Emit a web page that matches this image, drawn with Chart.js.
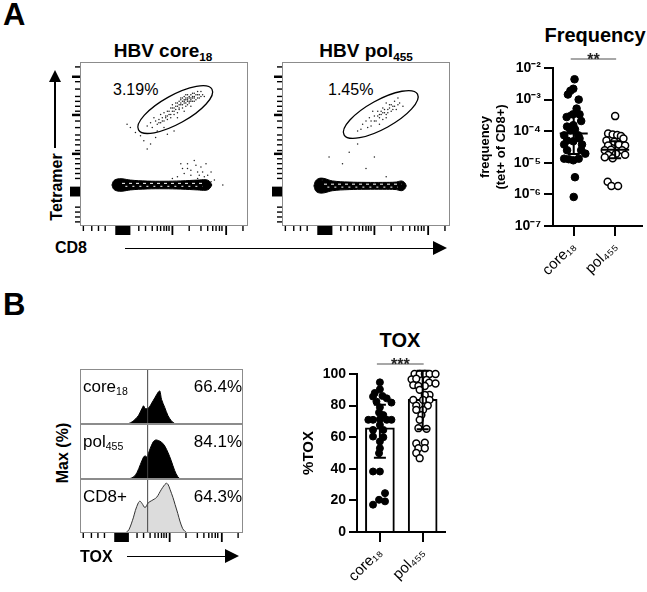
<!DOCTYPE html>
<html>
<head>
<meta charset="utf-8">
<script src="https://cdn.jsdelivr.net/npm/chart.js@4.4.1/dist/chart.umd.min.js"></script>
<style>
  body { margin: 0; background: #fff; }
  #fig { position: relative; width: 647px; height: 592px; overflow: hidden; font-family: "Liberation Sans", Arial, sans-serif; color: #000; }
  #fig canvas { position: absolute; }
  .t { position: absolute; white-space: nowrap; line-height: 1; }
  .b { font-weight: bold; }
  .rot { transform: translate(-50%, -50%) rotate(-90deg); }
  .ctr { transform: translateX(-50%); }
  .sub { font-size: 0.62em; position: relative; top: 0.3em; }
  .hl { position: absolute; background: #000; }
  .tri-r { position: absolute; width: 0; height: 0; border-top: 7px solid transparent; border-bottom: 7px solid transparent; border-left: 14px solid #000; }
  .tri-u { position: absolute; width: 0; height: 0; border-left: 6px solid transparent; border-right: 6px solid transparent; border-bottom: 12px solid #000; }
</style>
</head>
<body>
<div id="fig">
  <div class="t b" style="left:3px;top:-1px;font-size:31px">A</div>
  <div class="t b" style="left:3px;top:289px;font-size:31px">B</div>

  <!-- panel A flow plots -->
  <div class="t b ctr" style="left:163px;top:41px;font-size:19px">HBV core<span class="sub">18</span></div>
  <div class="t b ctr" style="left:366px;top:41px;font-size:19px">HBV pol<span class="sub">455</span></div>
  <div class="t" style="left:113px;top:81.5px;font-size:16px">3.19%</div>
  <div class="t" style="left:328px;top:81.5px;font-size:16px">1.45%</div>
  <div class="t b rot" style="left:57px;top:187px;font-size:16px">Tetramer</div>
  <div class="hl" style="left:54px;top:80px;width:1.5px;height:68px"></div>
  <div class="tri-u" style="left:49px;top:70px"></div>
  <div class="t b" style="left:55px;top:239.5px;font-size:16px">CD8</div>
  <div class="hl" style="left:125px;top:247.5px;width:310px;height:1.5px"></div>
  <div class="tri-r" style="left:433px;top:241px"></div>
  <canvas id="flow1" width="200" height="192" style="left:60px;top:55px"></canvas>
  <canvas id="flow2" width="200" height="192" style="left:262px;top:55px"></canvas>

  <div class="t b ctr" style="left:595px;top:25px;font-size:20px">Frequency</div>
  <canvas id="freq" width="169" height="260" style="left:478px;top:40px"></canvas>

  <!-- panel B histograms -->
  <div class="t b rot" style="left:63px;top:453px;font-size:16px">Max (%)</div>
  <canvas id="hist1" width="190" height="57" style="left:60px;top:368px"></canvas>
  <canvas id="hist2" width="190" height="57" style="left:60px;top:423px"></canvas>
  <canvas id="hist3" width="190" height="70" style="left:60px;top:478px"></canvas>
  <div class="t" style="left:83px;top:377.6px;font-size:17px">core<span class="sub">18</span></div>
  <div class="t" style="right:405px;top:377.6px;font-size:17px">66.4%</div>
  <div class="t" style="left:83px;top:432.6px;font-size:17px">pol<span class="sub">455</span></div>
  <div class="t" style="right:405px;top:432.6px;font-size:17px">84.1%</div>
  <div class="t" style="left:83px;top:487.6px;font-size:17px">CD8+</div>
  <div class="t" style="right:405px;top:487.6px;font-size:17px">64.3%</div>
  <div class="t b" style="left:80px;top:548.5px;font-size:16px">TOX</div>
  <div class="hl" style="left:127px;top:555.5px;width:100px;height:1.5px"></div>
  <div class="tri-r" style="left:225px;top:549px"></div>

  <div class="t b ctr" style="left:400px;top:330px;font-size:20px">TOX</div>
  <canvas id="tox" width="150" height="237" style="left:300px;top:355px"></canvas>
</div>

<script>
// ---------- data ----------
var groups = ["core\u2081\u2088", "pol\u2084\u2085\u2085"];

// tetramer+ events (CD8 %, tetramer %) in each flow plot
var coreDots = [[40,61],[42,63],[43,60],[45,64],[44,66],[46,62],[47,65],[48,68],[48,63],[49,66],[50,69],[50,64],[51,67],[52,70],[52,65],[53,68],[54,72],[54,66],[55,70],[55,74],[56,68],[56,72],[57,71],[57,75],[58,69],[58,73],[59,76],[59,71],[60,74],[60,78],[61,72],[61,76],[62,75],[62,79],[63,73],[63,77],[64,76],[64,80],[64,74],[65,78],[65,75],[66,77],[66,80],[67,76],[67,79],[68,78],[68,81],[69,77],[70,80],[71,78],[72,82],[73,80],[74,79],[62,70],[50,60],[46,58],[58,66],[66,73],
  [60,75],[61,74],[62,77],[63,78],[64,77],[65,79],[66,76],[67,78],[68,79],[69,80],[70,78],[65,76],[63,75],[61,78],[59,74],[57,73],[56,70],[55,72],[53,70],[51,66],[49,64],[47,63],[66,78],[67,81],[64,78],[62,76],[60,77],[58,75],[54,68],[52,67],[68,76],[70,82],[71,80],[72,79],[63,80],[59,72],
  [28,62],[30,60],[36,55],[38,52],[42,50],[45,54],[33,57],[52,56],[56,58],[40,47],
  [60,38],[64,35],[68,40],[70,33],[72,36],[74,30],[66,31],[62,32],[58,30],[75,38],[55,29],[70,29],[78,27],[80,28],[85,25],
  [66,34],[69,37],[73,33],[76,31],[71,31],[64,38],[78,33],[61,35]];
var polDots = [[45,58],[48,62],[50,64],[52,66],[53,61],[55,67],[56,64],[57,70],[58,66],[59,68],[60,72],[61,69],[62,66],[63,71],[64,74],[65,70],[66,73],[67,76],[68,71],[70,75],[54,70],[47,59],[62,75],[58,62],[69,78],[72,73],[51,60],[60,65],
  [57,67],[59,70],[61,71],[63,69],[64,72],[66,71],[62,68],[60,69],[65,74],[58,68],[55,64],[53,64],[67,73],[69,74],
  [40,45],[36,38],[28,42],[55,42],[50,35],[62,30],[45,50],[24,28],[70,27]];

// CD8+ tetramer- population outline
var coreBandX = [19, 20, 22, 25, 30, 40, 50, 60, 70, 75, 77, 78.5];
var coreBandTop = [25, 27.5, 28.6, 28.8, 28, 27.4, 27.3, 27.5, 28, 28.2, 27.3, 25];
var coreBandBot = [25, 22.5, 21.4, 21.2, 22, 22.6, 22.7, 22.5, 22, 21.8, 22.7, 25];
var polBandX = [19, 20, 22, 25, 30, 40, 50, 60, 68, 71, 73, 74];
var polBandTop = [24.5, 27.5, 29, 29, 27.5, 26.8, 26.6, 26.6, 26.8, 27.5, 26.5, 24.5];
var polBandBot = [24.5, 21.5, 20.2, 20.2, 21.5, 22.2, 22.4, 22.4, 22.2, 21.5, 22.5, 24.5];

// gates: centre, radii, tilt
var coreGate = { cx: 56.7, cy: 71, rx: 25, ry: 8.5, tilt: 29 };
var polGate = { cx: 58.8, cy: 68, rx: 25, ry: 8.5, tilt: 29 };

// log/biex axis tick positions (axis %)
var flowMinorX = [2, 7, 11, 15, 35, 39, 43, 46, 48, 50, 51.5, 53, 65, 72, 76, 79, 81, 83, 84.5, 97];
var flowMajorX = [55, 87];
var flowDenseX = [21, 30];
var flowMinorY = [2.5, 5.5, 8.5, 11.5, 29, 32, 35, 38, 41, 46, 49.5, 52.5, 55.5, 60, 64, 70, 73, 76, 79, 83.5, 88, 97];
var flowMajorY = [44, 67.7, 91];
var flowDenseY = [18, 24];

// frequency (tet+ of CD8+)
var freqCore = [4.4e-3, 2.2e-3, 1.9e-3, 1.45e-3, 1.0e-3, 5.2e-4, 3.4e-4, 2.8e-4, 3.4e-4, 2.1e-4, 1.55e-4, 1.4e-4, 1.15e-4, 1.07e-4, 7.4e-5, 7.4e-5, 5.1e-5, 5.9e-5, 4.8e-5, 3.8e-5, 3.8e-5, 2.5e-5, 2.5e-5, 1.95e-5, 1.35e-5, 1.3e-5, 1.2e-5, 1.35e-5, 3.5e-6, 8.3e-7];
var freqCoreJit = [0.02, -0.01, -0.08, -0.14, 0.12, 0.07, -0.02, -0.17, 0.14, 0.18, -0.01, -0.16, 0.03, -0.08, -0.23, 0.11, -0.16, 0.14, -0.01, -0.23, 0.2, 0.18, -0.16, 0.28, -0.23, -0.12, -0.01, 0.12, 0.03, 0];
var freqPol = [3.0e-4, 8.5e-5, 7.9e-5, 7.6e-5, 7.1e-5, 5.1e-5, 5.9e-5, 4.6e-5, 3.5e-5, 3.8e-5, 3.5e-5, 2.5e-5, 2.6e-5, 2.5e-5, 1.75e-5, 1.95e-5, 1.8e-5, 1.5e-5, 1.4e-5, 2.5e-6, 1.85e-6, 1.85e-6];
var freqPolJit = [0, -0.17, -0.06, 0.05, 0.14, -0.21, 0.2, -0.02, -0.17, 0.09, 0.24, -0.25, -0.1, 0.17, -0.17, 0.02, 0.24, -0.25, -0.06, -0.18, -0.09, 0.07];
var freqMean = [8.5e-5, 2.6e-5];
var freqLow = [1.9e-5, 1.4e-5];
var freqHigh = [3.7e-4, 4.8e-5];
var freqTicks = [1e-7, 1e-6, 1e-5, 1e-4, 1e-3, 1e-2];

// TOX histograms (TOX axis %, height as fraction of max)
var coreHistX = [28, 30, 32, 34, 36, 38, 39, 40, 42, 44, 46, 48, 49, 50, 52, 54, 56, 58, 60];
var coreHistY = [0, 0.01, 0.04, 0.09, 0.16, 0.28, 0.33, 0.28, 0.29, 0.38, 0.48, 0.58, 0.6, 0.45, 0.3, 0.15, 0.06, 0.01, 0];
var polHistX = [30, 33, 35, 37, 39, 40, 41, 43, 45, 46.5, 48, 50, 52, 54, 56, 58, 60, 61.5];
var polHistY = [0, 0.04, 0.12, 0.26, 0.4, 0.42, 0.4, 0.55, 0.68, 0.71, 0.7, 0.67, 0.6, 0.48, 0.33, 0.16, 0.04, 0];
var cd8HistX = [28, 30, 32.7, 34, 35.8, 36.8, 38, 39.9, 41.9, 44, 47, 50, 52.8, 54, 55.2, 57, 58.3, 60, 61.3, 63, 64.4, 65.5];
var cd8HistY = [0, 0.06, 0.28, 0.42, 0.56, 0.59, 0.55, 0.47, 0.56, 0.6, 0.66, 0.81, 0.92, 0.9, 0.81, 0.66, 0.53, 0.36, 0.22, 0.08, 0.03, 0];
var toxGate = 41.5;

// %TOX
var toxCore = [94.7, 90.3, 85.7, 86.1, 84.6, 82.5, 81.9, 78.9, 75.6, 71, 71, 71.4, 71, 71, 67.8, 64.6, 64.6, 60.4, 60, 57.3, 53, 49.9, 38.3, 38.3, 24.6, 20.4, 19.4, 17.3, 88, 74];
var toxCoreJit = [0, 0, -0.16, 0.06, 0.16, -0.08, 0.27, 0, -0.02, -0.27, -0.16, 0, 0.16, 0.27, 0, -0.16, 0.08, -0.16, 0.08, 0, 0, -0.02, -0.16, 0, 0.12, -0.02, 0.12, -0.16, -0.12, 0.08];
var toxPol = [100, 100, 100, 100, 100, 96.6, 97, 96.2, 94.5, 94, 93, 92.4, 92.4, 90, 86.7, 86.7, 83.6, 83.6, 83.6, 80, 80, 77.3, 77.3, 74, 71, 65.7, 65.3, 56, 56.6, 53, 53, 50, 46.7];
var toxPolJit = [-0.19, -0.07, 0.05, 0.16, 0.3, -0.26, -0.15, 0.09, 0.15, 0.3, -0.22, -0.1, 0.05, -0.07, 0.16, 0.05, -0.22, 0.01, 0.16, -0.15, 0.12, -0.15, 0.01, -0.03, -0.07, -0.1, 0.09, -0.15, 0.05, -0.1, 0.05, -0.15, -0.07];
var toxMean = [66, 84];
var toxLow = [47, 65];
var toxHigh = [80.5, 102];

// ---------- plugins ----------
var framePlugin = {
  id: "frame",
  afterDatasetsDraw: function (chart, args, o) {
    var ctx = chart.ctx, a = chart.chartArea;
    var xs = chart.scales.x, ys = chart.scales.y;
    ctx.save();
    if (o.gate) {
      var g = o.gate;
      var k = Math.abs(xs.getPixelForValue(1) - xs.getPixelForValue(0));
      ctx.beginPath();
      ctx.ellipse(xs.getPixelForValue(g.cx), ys.getPixelForValue(g.cy), g.rx * k, g.ry * k, -g.tilt * Math.PI / 180, 0, Math.PI * 2);
      ctx.strokeStyle = "#000";
      ctx.lineWidth = 1.3;
      ctx.stroke();
    }
    if (o.vline != null) {
      var vx = xs.getPixelForValue(o.vline);
      ctx.beginPath();
      ctx.moveTo(vx, a.top);
      ctx.lineTo(vx, a.bottom);
      ctx.strokeStyle = "#444";
      ctx.lineWidth = 1;
      ctx.stroke();
    }
    ctx.strokeStyle = "#8c8c8c";
    ctx.lineWidth = 1;
    ctx.strokeRect(a.left + 0.5, a.top + 0.5, a.right - a.left - 1, a.bottom - a.top - 1);
    ctx.strokeStyle = "#000";
    ctx.fillStyle = "#000";
    if (o.ticksX) {
      var yb = a.bottom;
      ctx.lineWidth = 1.4;
      o.ticksX.minor.forEach(function (v) {
        var x = xs.getPixelForValue(v);
        ctx.beginPath(); ctx.moveTo(x, yb); ctx.lineTo(x, yb + 5); ctx.stroke();
      });
      ctx.lineWidth = 1.8;
      o.ticksX.major.forEach(function (v) {
        var x = xs.getPixelForValue(v);
        ctx.beginPath(); ctx.moveTo(x, yb); ctx.lineTo(x, yb + 9); ctx.stroke();
      });
      var d0 = xs.getPixelForValue(o.ticksX.dense[0]), d1 = xs.getPixelForValue(o.ticksX.dense[1]);
      ctx.fillRect(d0, yb, d1 - d0, 9);
    }
    if (o.ticksY) {
      var xl = a.left;
      ctx.lineWidth = 1.4;
      o.ticksY.minor.forEach(function (v) {
        var y = ys.getPixelForValue(v);
        ctx.beginPath(); ctx.moveTo(xl, y); ctx.lineTo(xl - 5, y); ctx.stroke();
      });
      ctx.lineWidth = 2.5;
      o.ticksY.major.forEach(function (v) {
        var y = ys.getPixelForValue(v);
        ctx.beginPath(); ctx.moveTo(xl, y); ctx.lineTo(xl - 8, y); ctx.stroke();
      });
      var e0 = ys.getPixelForValue(o.ticksY.dense[0]), e1 = ys.getPixelForValue(o.ticksY.dense[1]);
      ctx.fillRect(xl - 10, e1, 10, e0 - e1);
    }
    ctx.restore();
  }
};

var statsPlugin = {
  id: "stats",
  afterDatasetsDraw: function (chart, args, o) {
    var ctx = chart.ctx, xs = chart.scales.x, ys = chart.scales.y;
    ctx.save();
    ctx.strokeStyle = "#000";
    ctx.lineWidth = 2;
    o.mean.forEach(function (m, i) {
      var x = xs.getPixelForValue(i);
      var yl = ys.getPixelForValue(o.low[i]), yh = ys.getPixelForValue(o.high[i]);
      ctx.beginPath();
      ctx.moveTo(x, yl); ctx.lineTo(x, yh);
      ctx.moveTo(x - o.cap, yl); ctx.lineTo(x + o.cap, yl);
      ctx.moveTo(x - o.cap, yh); ctx.lineTo(x + o.cap, yh);
      if (o.meanHalf) {
        var ym = ys.getPixelForValue(m);
        ctx.moveTo(x - o.meanHalf, ym); ctx.lineTo(x + o.meanHalf, ym);
      }
      ctx.stroke();
    });
    var x0 = xs.getPixelForValue(0) - 3, x1 = xs.getPixelForValue(1) + 1;
    var y = chart.chartArea.top - o.sigGap;
    ctx.strokeStyle = "#8a8a8a";
    ctx.lineWidth = 1.5;
    ctx.beginPath(); ctx.moveTo(x0, y); ctx.lineTo(x1, y); ctx.stroke();
    ctx.fillStyle = "#222";
    ctx.font = "bold 16px 'Liberation Sans', Arial, sans-serif";
    ctx.textAlign = "center";
    ctx.fillText(o.sig, (x0 + x1) / 2, y + 6);
    ctx.restore();
  }
};

function pts(xs, ys) {
  return xs.map(function (x, i) { return { x: x, y: ys[i] }; });
}
function jit(vals, offs, idx) {
  return vals.map(function (v, i) { return { x: idx + offs[i], y: v }; });
}
var hidden = { display: false, min: 0, max: 100 };

// ---------- flow plots ----------
function flowChart(id, dots, bx, bt, bb, gate) {
  var mid = (bt[0] + bb[0]) / 2;
  var x0 = bx[2] + 3, x1 = bx[bx.length - 3];
  new Chart(document.getElementById(id), {
    type: "scatter",
    data: {
      datasets: [
        { data: dots.map(function (d) { return { x: d[0], y: d[1] }; }), pointRadius: 0.75, pointBackgroundColor: "#222", pointBorderWidth: 0, order: 0 },
        { type: "line", data: pts(bx, bt), borderColor: "#000", borderWidth: 1, pointRadius: 0, tension: 0.4, fill: false, order: 3 },
        { type: "line", data: pts(bx, bb), borderColor: "#000", backgroundColor: "#000", borderWidth: 1, pointRadius: 0, tension: 0.4, fill: "-1", order: 2 },
        // contour rings inside the dense population
        { type: "line", data: pts([x0, x1], [mid + 1, mid + 1]), borderColor: "#fff", borderWidth: 1, borderDash: [3, 4], pointRadius: 0, order: 1 },
        { type: "line", data: pts([x0 + 2, x1 - 2], [mid - 0.8, mid - 0.8]), borderColor: "#fff", borderWidth: 1, borderDash: [2, 5], pointRadius: 0, order: 1 }
      ]
    },
    options: {
      responsive: false,
      animation: false,
      layout: { padding: { left: 20, top: 7, right: 12, bottom: 21 } },
      plugins: {
        legend: { display: false },
        tooltip: { enabled: false },
        frame: {
          gate: gate,
          ticksX: { minor: flowMinorX, major: flowMajorX, dense: flowDenseX },
          ticksY: { minor: flowMinorY, major: flowMajorY, dense: flowDenseY }
        }
      },
      scales: { x: hidden, y: hidden }
    },
    plugins: [framePlugin]
  });
}
flowChart("flow1", coreDots, coreBandX, coreBandTop, coreBandBot, coreGate);
flowChart("flow2", polDots, polBandX, polBandTop, polBandBot, polGate);

// ---------- frequency ----------
var sup = { "-": "\u207b", "0": "\u2070", "1": "\u00b9", "2": "\u00b2", "3": "\u00b3", "4": "\u2074", "5": "\u2075", "6": "\u2076", "7": "\u2077" };
function pow10(v) {
  var e = String(Math.round(Math.log10(v)));
  return "10" + e.split("").map(function (c) { return sup[c]; }).join("");
}
var axisFont = { family: "'Liberation Sans', Arial, sans-serif", size: 14, weight: "bold" };
var catFont = { family: "'Liberation Sans', Arial, sans-serif", size: 15 };

new Chart(document.getElementById("freq"), {
  type: "scatter",
  data: {
    datasets: [
      { data: jit(freqCore, freqCoreJit, 0), pointRadius: 3.8, pointBackgroundColor: "#000", pointBorderColor: "#000", pointBorderWidth: 1, clip: false },
      { data: jit(freqPol, freqPolJit, 1), pointRadius: 3.5, pointBackgroundColor: "#fff", pointBorderColor: "#000", pointBorderWidth: 1.5, clip: false }
    ]
  },
  options: {
    responsive: false,
    animation: false,
    layout: { padding: { top: 28, right: 0, bottom: 0, left: 0 } },
    plugins: {
      legend: { display: false },
      tooltip: { enabled: false },
      stats: { mean: freqMean, low: freqLow, high: freqHigh, cap: 6, meanHalf: 14, sig: "**", sigGap: 9 }
    },
    scales: {
      x: {
        type: "linear", min: -0.5, max: 1.636,
        afterBuildTicks: function (s) { s.ticks = [{ value: 0 }, { value: 1 }]; },
        afterFit: function (s) { s.height = 74; },
        ticks: { callback: function (v) { return groups[v]; }, minRotation: 45, maxRotation: 45, font: catFont, color: "#000", padding: 2 },
        grid: { drawOnChartArea: false, tickLength: 10, color: "#000", lineWidth: 2 },
        border: { color: "#000", width: 2 }
      },
      y: {
        type: "logarithmic", min: 1e-7, max: 1e-2,
        afterBuildTicks: function (s) { s.ticks = freqTicks.map(function (v) { return { value: v }; }); },
        afterFit: function (s) { s.width = 75; },
        title: { display: true, text: ["frequency", "(tet+ of CD8+)"], font: { family: axisFont.family, size: 13, weight: "bold" }, color: "#000", padding: 0 },
        ticks: { callback: pow10, font: axisFont, color: "#000", padding: 3 },
        grid: { drawOnChartArea: false, tickLength: 9, color: "#000", lineWidth: 2 },
        border: { color: "#000", width: 2 }
      }
    }
  },
  plugins: [statsPlugin]
});

// ---------- TOX histograms ----------
function histChart(id, xs, ys, fill, line, padBottom, ticks) {
  new Chart(document.getElementById(id), {
    type: "line",
    data: { datasets: [{ data: pts(xs, ys), borderColor: line, backgroundColor: fill, borderWidth: 1, pointRadius: 0, tension: 0.3, fill: "origin" }] },
    options: {
      responsive: false,
      animation: false,
      layout: { padding: { left: 20, top: 1, right: 7, bottom: padBottom } },
      plugins: {
        legend: { display: false },
        tooltip: { enabled: false },
        frame: { vline: toxGate, ticksX: ticks }
      },
      scales: { x: { type: "linear", display: false, min: 0, max: 100 }, y: { display: false, min: 0, max: 1 } }
    },
    plugins: [framePlugin]
  });
}
histChart("hist1", coreHistX, coreHistY, "#000", "#000", 1, null);
histChart("hist2", polHistX, polHistY, "#000", "#000", 1, null);
histChart("hist3", cd8HistX, cd8HistY, "#dcdcdc", "#333", 15, { minor: flowMinorX, major: flowMajorX, dense: flowDenseX });

// ---------- %TOX bars ----------
new Chart(document.getElementById("tox"), {
  type: "bar",
  data: {
    datasets: [
      { type: "bar", data: pts([0, 1], toxMean), backgroundColor: "#fff", borderColor: "#000", borderWidth: 2, barThickness: 29, order: 2 },
      { type: "scatter", data: jit(toxCore, toxCoreJit, 0), pointRadius: 3.5, pointBackgroundColor: "#000", pointBorderColor: "#000", pointBorderWidth: 1, clip: false, order: 1 },
      { type: "scatter", data: jit(toxPol, toxPolJit, 1), pointRadius: 3.4, pointBackgroundColor: "#fff", pointBorderColor: "#000", pointBorderWidth: 1.5, clip: false, order: 1 }
    ]
  },
  options: {
    responsive: false,
    animation: false,
    layout: { padding: { top: 19, right: 5, bottom: 0, left: 0 } },
    plugins: {
      legend: { display: false },
      tooltip: { enabled: false },
      stats: { mean: toxMean, low: toxLow, high: toxHigh, cap: 6, meanHalf: 0, sig: "***", sigGap: 10 }
    },
    scales: {
      x: {
        type: "linear", min: -0.535, max: 1.51, offset: false,
        afterBuildTicks: function (s) { s.ticks = [{ value: 0 }, { value: 1 }]; },
        afterFit: function (s) { s.height = 60; },
        ticks: { callback: function (v) { return groups[v]; }, minRotation: 45, maxRotation: 45, font: catFont, color: "#000", padding: 2 },
        grid: { drawOnChartArea: false, tickLength: 10, color: "#000", lineWidth: 2, offset: false },
        border: { color: "#000", width: 2 }
      },
      y: {
        min: 0, max: 100,
        ticks: { stepSize: 20, font: axisFont, color: "#000", padding: 3 },
        afterFit: function (s) { s.width = 57; },
        title: { display: true, text: "%TOX", font: { family: axisFont.family, size: 15, weight: "bold" }, color: "#000", padding: 0 },
        grid: { drawOnChartArea: false, tickLength: 8, color: "#000", lineWidth: 2 },
        border: { color: "#000", width: 2 }
      }
    }
  },
  plugins: [statsPlugin]
});
</script>
</body>
</html>
